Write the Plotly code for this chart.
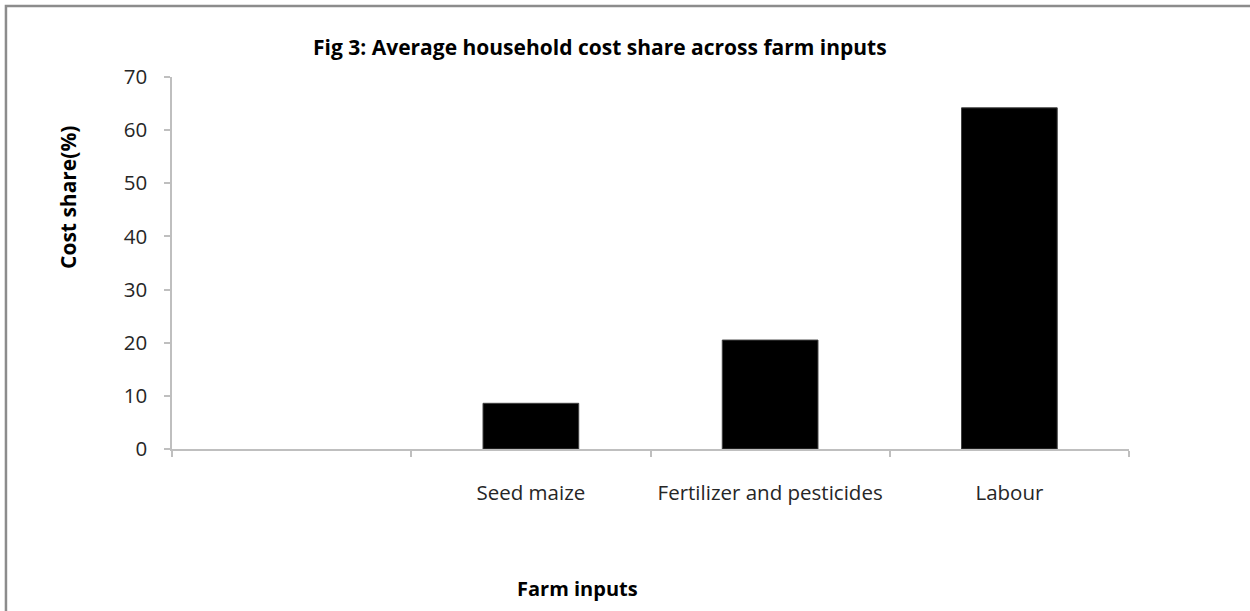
import plotly.graph_objects as go

# data
categories = [' ', 'Seed maize', 'Fertilizer and pesticides', 'Labour']
cost_share = [None, 8.6, 20.5, 64.2]
y_ticks = [0, 10, 20, 30, 40, 50, 60, 70]

FONT = 'Open Sans'
AXIS_GREY = '#BFBFBF'

fig = go.Figure(
    go.Bar(x=categories,
           y=cost_share,
           marker=dict(color='black', line=dict(color='#404040', width=1)),
           hoverinfo='x+y'))

fig.update_layout(
    width=1250,
    height=611,
    margin=dict(l=172, r=121, t=77, b=162),
    paper_bgcolor='white',
    plot_bgcolor='white',
    bargap=0.6,
    showlegend=False,
    font=dict(family=FONT, size=20, color='#262626'))

fig.update_xaxes(type='category',
                 showgrid=False,
                 showline=True,
                 linecolor=AXIS_GREY,
                 linewidth=1.5,
                 ticks='outside',
                 tickson='boundaries',
                 ticklen=6,
                 tickcolor=AXIS_GREY,
                 tickwidth=1.5,
                 ticklabelstandoff=25,
                 tickfont=dict(size=20.5))
fig.update_yaxes(range=[0, 70],
                 tickvals=y_ticks,
                 showgrid=False,
                 zeroline=False,
                 showline=True,
                 linecolor=AXIS_GREY,
                 linewidth=1.5,
                 ticks='outside',
                 ticklen=6,
                 tickcolor=AXIS_GREY,
                 tickwidth=1.5,
                 ticklabelstandoff=13,
                 tickfont=dict(size=20.5))

# outer chart frame (only top/left edges visible in the reference)
fig.add_shape(type='rect', xref='paper', yref='paper',
              x0=-0.1735, x1=1.132, y0=-0.46, y1=1.1909,
              line=dict(color='#8C8C8C', width=2.5), layer='below')

fig.add_annotation(text='<b>Fig 3: Average household cost share across farm inputs</b>',
                   xref='paper', yref='paper', x=0.4472, y=1.0806,
                   xanchor='center', yanchor='middle',
                   showarrow=False, font=dict(size=21, color='black'))
fig.add_annotation(text='<b>Farm inputs</b>',
                   xref='paper', yref='paper', x=0.4242, y=-0.3763,
                   xanchor='center', yanchor='middle',
                   showarrow=False, font=dict(size=20, color='black'))
fig.add_annotation(text='<b>Cost share(%)</b>',
                   xref='paper', yref='paper', x=-0.1087, y=0.6774,
                   xanchor='center', yanchor='middle',
                   textangle=-90, showarrow=False,
                   font=dict(size=21, color='black'))

# the page's default body margin would push the fixed-size figure off by 8px
fig.write_html('out.html', config={'displayModeBar': False},
               post_script="document.body.style.margin='0';")
